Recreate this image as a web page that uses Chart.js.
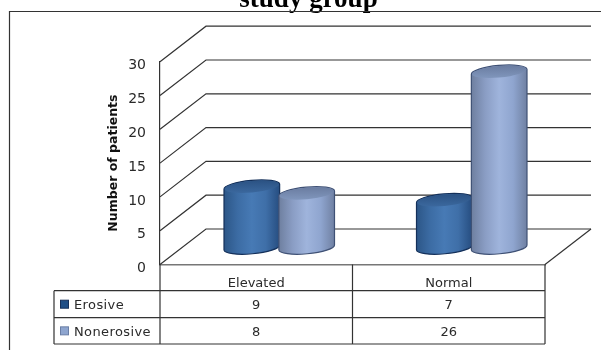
<!DOCTYPE html>
<html>
<head>
<meta charset="utf-8">
<style>
  html, body { margin: 0; padding: 0; width: 601px; height: 350px; overflow: hidden; background: #fff; }
  #wrap { position: absolute; left: 0; top: -24px; }
  canvas { display: block; }
</style>
<script src="https://cdn.jsdelivr.net/npm/chart.js@4/dist/chart.umd.min.js"></script>
</head>
<body>
<div id="wrap"><canvas id="c" width="601" height="374"></canvas></div>
<script>
// Patient counts per study group
const categories = ['Elevated', 'Normal'];
const erosive = [9, 7];
const nonerosive = [8, 26];
const seriesNames = ['Erosive', 'Nonerosive'];
const chartTitle = 'study group';
const yTitle = 'Number of patients';

const SHIFT_TOP = 24;            // canvas sits this far above the page edge
const DEPTH_X = 46, DEPTH_Y = -35.5;
const TABLE_ROWS = [26.2, 53.2, 79.5];   // row rules below the floor line
const TABLE_LEFT = 54;
const LINE = '#333333';

const palettes = [
  { stops: ['#2c5687', '#3c6ca4', '#477ab5', '#3f6fa8', '#264d80'], top: ['#2b5283', '#3b689e'], edge: '#14305a', swatch: '#1f4e86', swatchEdge: '#16305a' },
  { stops: ['#6e7f9f', '#8a9dc4', '#9fb4dc', '#8fa5cf', '#6f80a2'], top: ['#6a7ca0', '#8096bc'], edge: '#3f5175', swatch: '#8ea5cf', swatchEdge: '#6a7fa6' }
];

function drawCylinder(ctx, el, pal) {
  const cx = el.x + DEPTH_X / 2;
  const rx = el.width / 2 + 0.5;
  const ry = 6.3;
  const tilt = -0.09;
  const yTop = el.y - 17;
  const yBase = el.base - 17;

  const body = ctx.createLinearGradient(cx - rx, 0, cx + rx, 0);
  pal.stops.forEach((c, i) => body.addColorStop(i / (pal.stops.length - 1), c));

  ctx.beginPath();
  ctx.ellipse(cx, yBase, rx, ry, tilt, 0, Math.PI);
  ctx.ellipse(cx, yTop, rx, ry, tilt, Math.PI, Math.PI * 2);
  ctx.closePath();
  ctx.fillStyle = body;
  ctx.fill();
  ctx.strokeStyle = pal.edge;
  ctx.lineWidth = 1.2;
  ctx.stroke();

  const cap = ctx.createLinearGradient(cx, yTop - ry, cx, yTop + ry);
  cap.addColorStop(0, pal.top[0]);
  cap.addColorStop(1, pal.top[1]);
  ctx.beginPath();
  ctx.ellipse(cx, yTop, rx - 0.6, ry - 0.5, tilt, 0, Math.PI * 2);
  ctx.fillStyle = cap;
  ctx.fill();
}

// Back wall, side wall and floor of the pseudo-3D plot box
function drawWalls(chart) {
  const { ctx, scales: { x, y } } = chart;
  ctx.save();
  ctx.lineWidth = 1.2;
  ctx.strokeStyle = LINE;
  y.ticks.forEach(t => {
    const py = y.getPixelForValue(t.value);
    ctx.beginPath();
    ctx.moveTo(x.left, py);
    ctx.lineTo(x.left + DEPTH_X, py + DEPTH_Y);
    ctx.lineTo(x.right + DEPTH_X, py + DEPTH_Y);
    ctx.stroke();
  });
  const floorY = y.getPixelForValue(0);
  ctx.beginPath();
  ctx.moveTo(x.right, floorY);
  ctx.lineTo(x.right + DEPTH_X, floorY + DEPTH_Y);
  ctx.stroke();
  ctx.restore();
}

// Outer frame and the data table under the plot
function drawFrameAndTable(chart) {
  const { ctx, scales: { x, y } } = chart;
  const floorY = y.getPixelForValue(0);
  const rows = TABLE_ROWS.map(r => floorY + r);
  const mid = (x.getPixelForTick(0) + x.getPixelForTick(1)) / 2;
  ctx.save();
  ctx.strokeStyle = LINE;
  ctx.lineWidth = 1.2;
  const frameTop = 11.5 + SHIFT_TOP;
  ctx.beginPath();
  ctx.moveTo(601, frameTop);
  ctx.lineTo(9.5, frameTop);
  ctx.lineTo(9.5, 374);
  ctx.stroke();

  ctx.beginPath();
  rows.forEach(ry => { ctx.moveTo(TABLE_LEFT, ry); ctx.lineTo(x.right, ry); });
  ctx.moveTo(TABLE_LEFT, rows[0]); ctx.lineTo(TABLE_LEFT, rows[2]);
  ctx.moveTo(x.left, floorY); ctx.lineTo(x.left, rows[2]);
  ctx.moveTo(mid, floorY); ctx.lineTo(mid, rows[2]);
  ctx.moveTo(x.right, floorY); ctx.lineTo(x.right, rows[2]);
  ctx.stroke();

  ctx.textBaseline = 'middle';
  [erosive, nonerosive].forEach((vals, r) => {
    const cy = (rows[r] + rows[r + 1]) / 2;
    const pal = palettes[r];
    ctx.lineWidth = 1;
    ctx.fillStyle = pal.swatch;
    ctx.fillRect(60.5, cy - 4, 8, 8);
    ctx.strokeStyle = pal.swatchEdge;
    ctx.strokeRect(60.5, cy - 4, 8, 8);
    ctx.fillStyle = '#2a2a2a';
    ctx.font = '13px "DejaVu Sans"';
    ctx.textAlign = 'left';
    ctx.letterSpacing = '0.4px';
    ctx.fillText(seriesNames[r], 74, cy + 1.5);
    ctx.letterSpacing = '0px';
    ctx.textAlign = 'center';
    vals.forEach((v, i) => ctx.fillText(String(v), x.getPixelForTick(i), cy + 1.5));
  });
  ctx.restore();
}

const boxPlugin = {
  id: 'box3d',
  afterLayout(chart) {
    // The heading is centred over the whole frame, not just the plot width
    chart.titleBlock.left = 16;
    chart.titleBlock.right = 601;
  },
  beforeDatasetsDraw(chart) {
    drawWalls(chart);
    const ctx = chart.ctx;
    ctx.save();
    // Series are painted in list order so the second one overlaps the first
    chart.data.datasets.forEach((ds, i) => {
      chart.getDatasetMeta(i).data.forEach(el => drawCylinder(ctx, el, palettes[i]));
    });
    ctx.restore();
    return false;
  },
  afterDraw(chart) { drawFrameAndTable(chart); }
};

new Chart(document.getElementById('c'), {
  type: 'bar',
  data: {
    labels: categories,
    datasets: [
      { label: seriesNames[0], data: erosive, backgroundColor: palettes[0].swatch },
      { label: seriesNames[1], data: nonerosive, backgroundColor: palettes[1].swatch }
    ]
  },
  plugins: [boxPlugin],
  options: {
    responsive: false,
    animation: false,
    categoryPercentage: 0.57,
    barPercentage: 1,
    layout: { padding: { left: 0, right: 56, top: 0, bottom: 0 } },
    plugins: {
      legend: { display: false },
      tooltip: { enabled: false },
      title: {
        display: true,
        text: chartTitle,
        color: '#000',
        align: 'center',
        font: { family: '"Liberation Serif"', size: 27, weight: 'bold', lineHeight: 1.2 },
        padding: { top: 7.5, bottom: 45.8 }
      }
    },
    scales: {
      x: {
        grid: { display: false, drawTicks: false },
        border: { display: true, color: '#777777', width: 1.4 },
        ticks: { color: '#2a2a2a', padding: 11, font: { family: '"DejaVu Sans"', size: 13 } },
        afterFit(s) { s.height = 85.5; }
      },
      y: {
        min: 0,
        max: 30,
        grid: { display: false, drawTicks: false },
        border: { display: true, color: LINE, width: 1.2 },
        ticks: { stepSize: 5, color: '#2a2a2a', padding: 14, labelOffset: 4, font: { family: '"DejaVu Sans"', size: 14 } },
        title: {
          display: true,
          text: yTitle,
          color: '#111',
          font: { family: '"DejaVu Sans"', size: 12.5, weight: 'bold' },
          padding: { top: 106, bottom: 0 }
        },
        afterFit(s) { s.width = 160; }
      }
    }
  }
});
</script>
</body>
</html>
